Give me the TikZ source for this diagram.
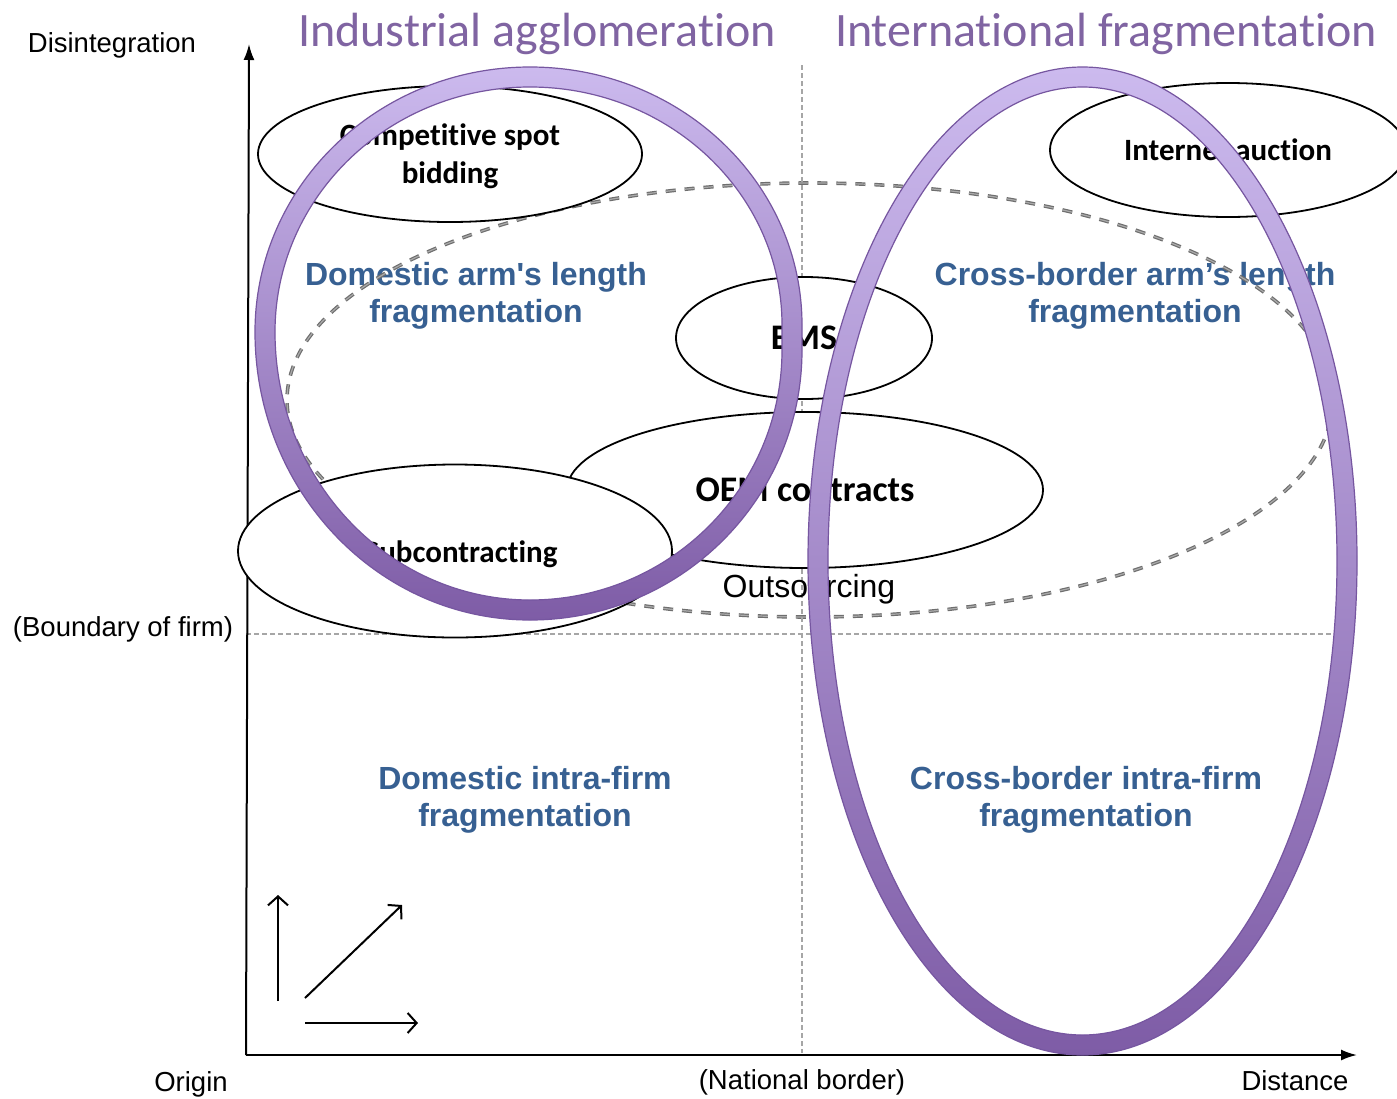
\documentclass[tikz,border=0pt]{standalone}
\usepackage{fontspec}
\setmainfont{Liberation Sans}
\newfontfamily\carlito[Ligatures={NoCommon}]{Carlito}
\newfontfamily\arialraw[Ligatures=TeXOff]{Liberation Sans}
\usetikzlibrary{shapes.geometric,arrows.meta}
\definecolor{blueLab}{HTML}{376092}
\definecolor{titlePurple}{HTML}{8064A2}
\definecolor{ringTop}{RGB}{204,186,238}
\definecolor{ringBot}{RGB}{126,92,166}
\definecolor{ringEdge}{RGB}{118,86,160}
\definecolor{gridGray}{RGB}{166,166,166}
\definecolor{outsGray}{RGB}{110,110,110}
\definecolor{outsLight}{RGB}{170,170,170}
\begin{document}
\begin{tikzpicture}[x=1pt,y=-1pt,
 axislab/.style={font=\fontsize{27.5}{33}\selectfont, inner sep=0, anchor=base},
 bluelab/.style={font=\fontsize{32}{37}\selectfont\bfseries, text=blueLab, align=center, inner sep=0},
 titlelab/.style={font=\carlito\fontsize{48}{58}\selectfont, text=titlePurple, inner sep=0, anchor=base},
 bubble/.style={ellipse, draw=black, line width=1.8pt, fill=white, inner sep=0, font=\carlito\bfseries\fontsize{31}{38}\selectfont, align=center},
 bigbubble/.style={bubble, font=\carlito\bfseries\fontsize{36}{44}\selectfont},
 bubbletext/.style={inner sep=0, font=\carlito\bfseries\fontsize{31}{38}\selectfont, align=center},
 griddash/.style={draw=gridGray, line width=1.3pt, dash pattern=on 5pt off 3pt},
 outsdash/.style={draw=outsGray, double=outsLight, double distance=1.2pt, line width=1.2pt, dash pattern=on 10pt off 9pt},
 axisline/.style={line width=2pt, -{Latex[length=16pt,width=11pt]}},
 hintarrow/.style={line width=2pt, -{Straight Barb[length=9pt,width=20pt]}},
 ringstyle/.style={top color=ringTop, bottom color=ringBot, even odd rule, draw=ringEdge, line width=1.2pt}
]
\useasboundingbox (0,0) rectangle (1397,1098);
\fill[white] (0,0) rectangle (1397,1098);

% quadrant labels
\node[bluelab] (domarm) at (476,296) {Domestic arm{\arialraw\bfseries '}s length\\fragmentation};
\node[bluelab] (crossarm) at (1135,296) {Cross-border arm’s length\\fragmentation};
\node[bluelab] (domintra) at (525,800) {Domestic intra-firm\\fragmentation};
\node[bluelab] (crossintra) at (1086,800) {Cross-border intra-firm\\fragmentation};

% outsourcing region
\draw[outsdash] (810,400) ellipse [x radius=523pt, y radius=217pt];

% boundary lines
\coordinate (nbTop) at (802,65);
\coordinate (nbBot) at (802,1053);
\coordinate (bfL) at (246,634);
\coordinate (bfR) at (1335,634);
\draw[griddash] (nbTop) -- (nbBot);
\draw[griddash] (bfL) -- (bfR);

% axes
\coordinate (O) at (246,1055);
\coordinate (ytop) at (249,44);
\coordinate (xend) at (1357,1055);
\draw[axisline] (O) -- (ytop);
\draw[axisline] (O) -- (xend);

\node[axislab] (disint) at (112,52) {Disintegration};
\node[axislab] (boundary) at (123,636) {(Boundary of firm)};
\node[axislab] (origin) at (191,1091) {Origin};
\node[axislab] (national) at (802,1089) {(National border)};
\node[axislab] (distance) at (1295,1090) {Distance};

% titles
\node[titlelab] (agglo) at (537,46) {Industrial agglomeration};
\node[titlelab] (intfrag) at (1106,46) {International fragmentation};

% contract bubbles
\node[bubble, minimum width=384pt, minimum height=136pt] (spot) at (450,154) {};
\node[bubbletext] (spottext) at (450,156) {Competitive spot\\bidding};
\node[bigbubble, minimum width=256pt, minimum height=122pt] (ems) at (804,338) {EMS};
\node[bubble, minimum width=356pt, minimum height=134pt] (auction) at (1228,150) {Internet auction};
\node[bigbubble, minimum width=476pt, minimum height=156pt] (oem) at (805,490) {OEM contracts};
\node[bubble, minimum width=434pt, minimum height=173pt] (subc) at (455,551) {};
\node[bubbletext, anchor=base] (subctext) at (461,562) {Subcontracting};

\node[font=\fontsize{32}{38}\selectfont, inner sep=0] (outs) at (809,589) {Outsourcing};

% hint arrows
\coordinate (hUpA) at (278,1001);
\coordinate (hUpB) at (278,895);
\coordinate (hDgA) at (305,998);
\coordinate (hDgB) at (402,905);
\coordinate (hRtA) at (305,1023);
\coordinate (hRtB) at (418,1023);
\draw[hintarrow] (hUpA) -- (hUpB);
\draw[hintarrow] (hDgA) -- (hDgB);
\draw[hintarrow] (hRtA) -- (hRtB);

% rings
\shadedraw[ringstyle]
  (255,332) arc[start angle=180, end angle=90, x radius=275pt, y radius=265pt]
            arc[start angle=90, end angle=0, x radius=272pt, y radius=258pt]
            -- (802,350)
            arc[start angle=0, end angle=-90, x radius=272pt, y radius=270pt]
            arc[start angle=-90, end angle=-180, x radius=275pt, y radius=288pt] -- cycle
  (275,332) arc[start angle=180, end angle=90, x radius=255pt, y radius=245pt]
            arc[start angle=90, end angle=0, x radius=252pt, y radius=238pt]
            -- (782,350)
            arc[start angle=0, end angle=-90, x radius=252pt, y radius=250pt]
            arc[start angle=-90, end angle=-180, x radius=255pt, y radius=268pt] -- cycle;
\shadedraw[ringstyle] (1082.5,561) ellipse [x radius=274.5pt, y radius=494pt] (1082.5,561) ellipse [x radius=254.5pt, y radius=474pt];
\end{tikzpicture}
\end{document}
